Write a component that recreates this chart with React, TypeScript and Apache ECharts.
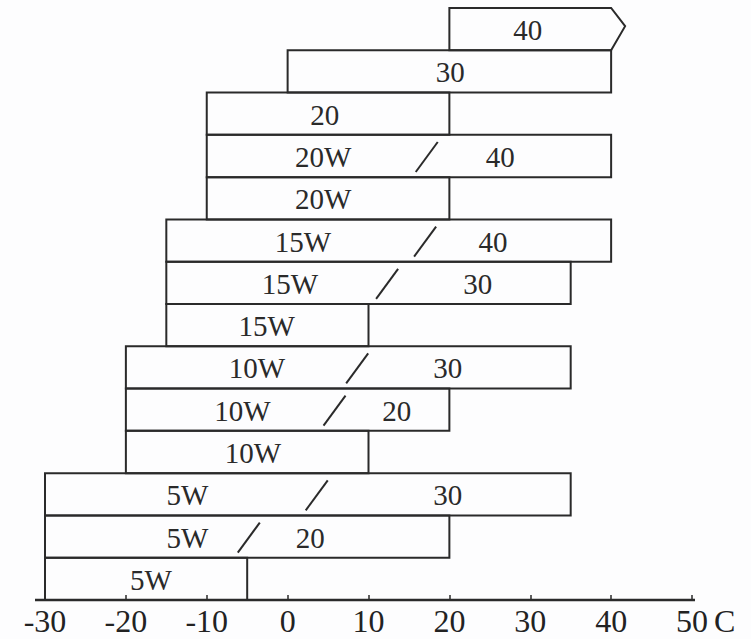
import React, { useEffect, useRef } from "react";
import * as echarts from "echarts";

// Oil grades, bottom row first
const grades = ["5W", "5W/20", "5W/30", "10W", "10W/20", "10W/30", "15W", "15W/30", "15W/40", "20W", "20W/40", "20", "30", "40"];
const winterLabels = ["5W", "5W", "5W", "10W", "10W", "10W", "15W", "15W", "15W", "20W", "20W", "20", "30", "40"];
const summerLabels = ["", "20", "30", "", "20", "30", "", "30", "40", "", "40", "", "", ""];
// temperature range (°C)
const lowTemp = [-30, -30, -30, -20, -20, -20, -15, -15, -15, -10, -10, -10, 0, 20];
const highTemp = [-5, 20, 35, 10, 20, 35, 10, 35, 40, 20, 40, 20, 40, 40];
const openEnded = [false, false, false, false, false, false, false, false, false, false, false, false, false, true];
// where the labels sit along the temperature scale
const winterLabelAt = [-16.9, -12.4, -12.4, -4.3, -5.6, -3.8, -2.6, 0.3, 1.9, 4.4, 4.4, 4.6, 20.1, 29.7];
const slashAt = [null, -4.8, 3.6, null, 5.8, 8.6, null, 12.3, 17.0, null, 17.2, null, null, null];
const summerLabelAt = [null, 2.8, 19.8, null, 13.5, 19.8, null, 23.5, 25.4, null, 26.3, null, null, null];
const xTicks = [-30, -20, -10, 0, 10, 20, 30, 40, 50];

const INK = "#2a2a2a";
const FONT = "29px 'Liberation Serif', 'Times New Roman', serif";

export default function App() {
  const ref = useRef<HTMLDivElement>(null);
  useEffect(() => {
    if (!ref.current) return;
    const chart = echarts.init(ref.current, null, { renderer: "svg" });
    const data = grades.map((g, i) => [lowTemp[i], highTemp[i], i]);
    const option: any = {
      animation: false,
      backgroundColor: "#fdfdfe",
      grid: { left: 45, right: 59, top: 8, bottom: 39 },
      xAxis: {
        type: "value",
        min: xTicks[0],
        max: xTicks[xTicks.length - 1],
        interval: 10,
        axisLine: { show: false },
        axisTick: { show: true, inside: true, length: 5, lineStyle: { color: INK, width: 1.5 } },
        splitLine: { show: false },
        axisLabel: {
          margin: 5,
          color: "#222",
          fontFamily: "'Liberation Serif', 'Times New Roman', serif",
          fontSize: 32,
          verticalAlign: "top",
        },
        name: "C",
        nameLocation: "end",
        nameGap: 21,
        nameTextStyle: {
          color: "#222",
          fontFamily: "'Liberation Serif', 'Times New Roman', serif",
          fontSize: 32,
          verticalAlign: "top",
          align: "left",
          padding: [5, 0, 0, 0],
        },
      },
      yAxis: {
        type: "category",
        data: grades,
        show: false,
        boundaryGap: true,
      },
      graphic: [
        {
          type: "line",
          shape: { x1: 35, y1: 600, x2: 695, y2: 600 },
          style: { stroke: INK, lineWidth: 2.5 },
          z: 10,
        },
      ],
      series: [
        {
          type: "custom",
          data,
          encode: { x: [0, 1], y: 2 },
          renderItem: (params: any, api: any) => {
            const i = params.dataIndex;
            const lo = api.value(0);
            const hi = api.value(1);
            const row = api.value(2);
            const p0 = api.coord([lo, row]);
            const p1 = api.coord([hi, row]);
            const h = api.size([0, 1])[1];
            const yTop = p0[1] - h / 2;
            const yBot = p0[1] + h / 2;
            const children: any[] = [];
            if (openEnded[i]) {
              const tip = 14;
              children.push({
                type: "polygon",
                shape: {
                  points: [
                    [p0[0], yBot],
                    [p0[0], yTop],
                    [p1[0], yTop],
                    [p1[0] + tip, p0[1] - 3],
                    [p1[0], yBot],
                  ],
                },
                style: { fill: "none", stroke: INK, lineWidth: 2 },
              });
            } else {
              children.push({
                type: "rect",
                shape: { x: p0[0], y: yTop, width: p1[0] - p0[0], height: h },
                style: { fill: "none", stroke: INK, lineWidth: 2 },
              });
            }
            const ty = p0[1] + 1;
            children.push({
              type: "text",
              x: api.coord([winterLabelAt[i], row])[0],
              y: ty,
              style: { text: winterLabels[i], font: FONT, fill: INK, textAlign: "center", textVerticalAlign: "middle" },
            });
            if (slashAt[i] !== null) {
              const sx = api.coord([slashAt[i] as number, row])[0];
              children.push({
                type: "line",
                shape: { x1: sx - 11, y1: ty + 15, x2: sx + 11, y2: ty - 15 },
                style: { stroke: INK, lineWidth: 2 },
              });
              children.push({
                type: "text",
                x: api.coord([summerLabelAt[i] as number, row])[0],
                y: ty,
                style: { text: summerLabels[i], font: FONT, fill: INK, textAlign: "center", textVerticalAlign: "middle" },
              });
            }
            return { type: "group", children };
          },
        },
      ],
    };
    chart.setOption(option);
    return () => chart.dispose();
  }, []);
  return (
    <div
      ref={ref}
      style={{ position: "fixed", left: 0, top: 0, width: 751, height: 639 }}
    />
  );
}
